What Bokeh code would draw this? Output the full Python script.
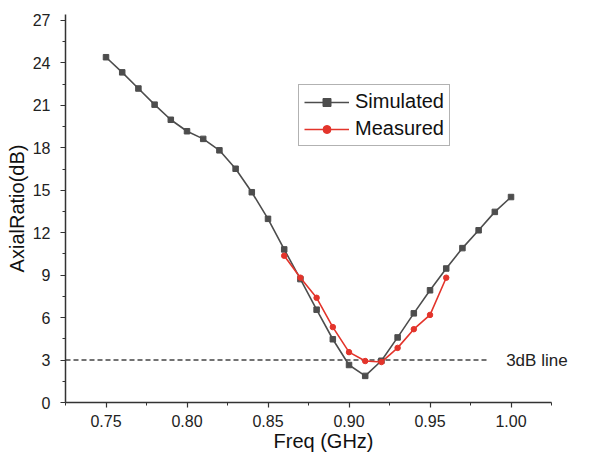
from bokeh.plotting import figure
from bokeh.models import Range1d, FixedTicker, Legend, LegendItem, Label
from bokeh.embed import file_html
from bokeh.resources import INLINE

freq_sim = [0.75, 0.76, 0.77, 0.78, 0.79, 0.80, 0.81, 0.82, 0.83, 0.84, 0.85, 0.86, 0.87,
            0.88, 0.89, 0.90, 0.91, 0.92, 0.93, 0.94, 0.95, 0.96, 0.97, 0.98, 0.99, 1.00]
ar_sim = [24.4, 23.33, 22.19, 21.05, 19.98, 19.17, 18.63, 17.82, 16.52, 14.86, 12.98, 10.82, 8.72,
          6.56, 4.47, 2.65, 1.88, 2.95, 4.6, 6.3, 7.93, 9.47, 10.91, 12.17, 13.47, 14.52]

freq_meas = [0.86, 0.87, 0.88, 0.89, 0.90, 0.91, 0.92, 0.93, 0.94, 0.95, 0.96]
ar_meas = [10.37, 8.82, 7.4, 5.33, 3.56, 2.93, 2.86, 3.86, 5.18, 6.19, 8.82]

ref_x = [0.725, 0.9867]
ref_y = [3.0, 3.0]
ref_label = "3dB line"

x_ticks = [0.75, 0.80, 0.85, 0.90, 0.95, 1.00]
x_minor = [0.725, 0.775, 0.825, 0.875, 0.925, 0.975, 1.025]
y_ticks = [0, 3, 6, 9, 12, 15, 18, 21, 24, 27]
y_minor = [1.5, 4.5, 7.5, 10.5, 13.5, 16.5, 19.5, 22.5, 25.5]

FONT = "Liberation Sans"
GREY = "#4d4d4d"
RED = "#e3342b"

p = figure(width=591, height=454, output_backend="svg", toolbar_location=None,
           x_range=Range1d(0.725, 1.0435), y_range=Range1d(0, 27.42),
           min_border_left=65, min_border_right=10, min_border_top=14, min_border_bottom=50)
p.outline_line_color = None
p.xgrid.visible = False
p.ygrid.visible = False
p.background_fill_color = "white"
p.border_fill_color = "white"

p.xaxis.ticker = FixedTicker(ticks=x_ticks, minor_ticks=x_minor)
p.yaxis.ticker = FixedTicker(ticks=y_ticks, minor_ticks=y_minor)
p.xaxis.major_label_overrides = {t: f"{t:.2f}" for t in x_ticks}
p.xaxis.bounds = (0.725, 1.025)

for ax in (p.xaxis[0], p.yaxis[0]):
    ax.axis_line_color = "#333333"
    ax.axis_line_width = 1.5
    ax.major_tick_line_color = "#333333"
    ax.minor_tick_line_color = "#333333"
    ax.major_tick_line_width = 1.2
    ax.minor_tick_line_width = 1.0
    ax.major_tick_in = 0
    ax.minor_tick_in = 0
    ax.major_tick_out = 5
    ax.minor_tick_out = 3
    ax.major_label_text_font = FONT
    ax.major_label_text_font_size = "16px"
    ax.major_label_text_color = "#222222"
    ax.axis_label_text_font = FONT
    ax.axis_label_text_font_size = "20px"
    ax.axis_label_text_font_style = "normal"
    ax.axis_label_text_color = "#111111"

p.xaxis.axis_label = "Freq (GHz)"
p.yaxis.axis_label = "AxialRatio(dB)"
p.xaxis.major_label_standoff = 7
p.xaxis.axis_label_standoff = 0
p.yaxis.major_label_standoff = 10
p.yaxis.axis_label_standoff = 2

# 3dB reference line
p.line(ref_x, ref_y, line_color="#444444", line_width=1.4, line_dash="5 3")
p.add_layout(Label(x=0.997, y=3.0, text=ref_label, text_font=FONT, text_font_size="17px",
                   text_color="#222222", text_baseline="middle", text_align="left"))

l1 = p.line(freq_sim, ar_sim, line_color=GREY, line_width=1.6)
m1 = p.scatter(freq_sim, ar_sim, marker="square", size=5.5, fill_color=GREY, line_color=GREY)
l2 = p.line(freq_meas, ar_meas, line_color=RED, line_width=1.6)
m2 = p.scatter(freq_meas, ar_meas, marker="circle", size=5.5, fill_color=RED, line_color=RED)

legend = Legend(items=[LegendItem(label="Simulated", renderers=[l1, m1]),
                       LegendItem(label="Measured", renderers=[l2, m2])],
                location=(233, 256))
legend.label_text_font = FONT
legend.label_text_font_size = "20px"
legend.label_text_color = "#111111"
legend.glyph_width = 45
legend.glyph_height = 20
legend.label_height = 20
legend.label_standoff = 6
legend.spacing = 4
legend.padding = 5
legend.margin = 0
legend.border_line_color = "#666666"
legend.border_line_width = 1
legend.background_fill_alpha = 1
p.add_layout(legend, "center")

open("out.html", "w").write(file_html(p, INLINE))
